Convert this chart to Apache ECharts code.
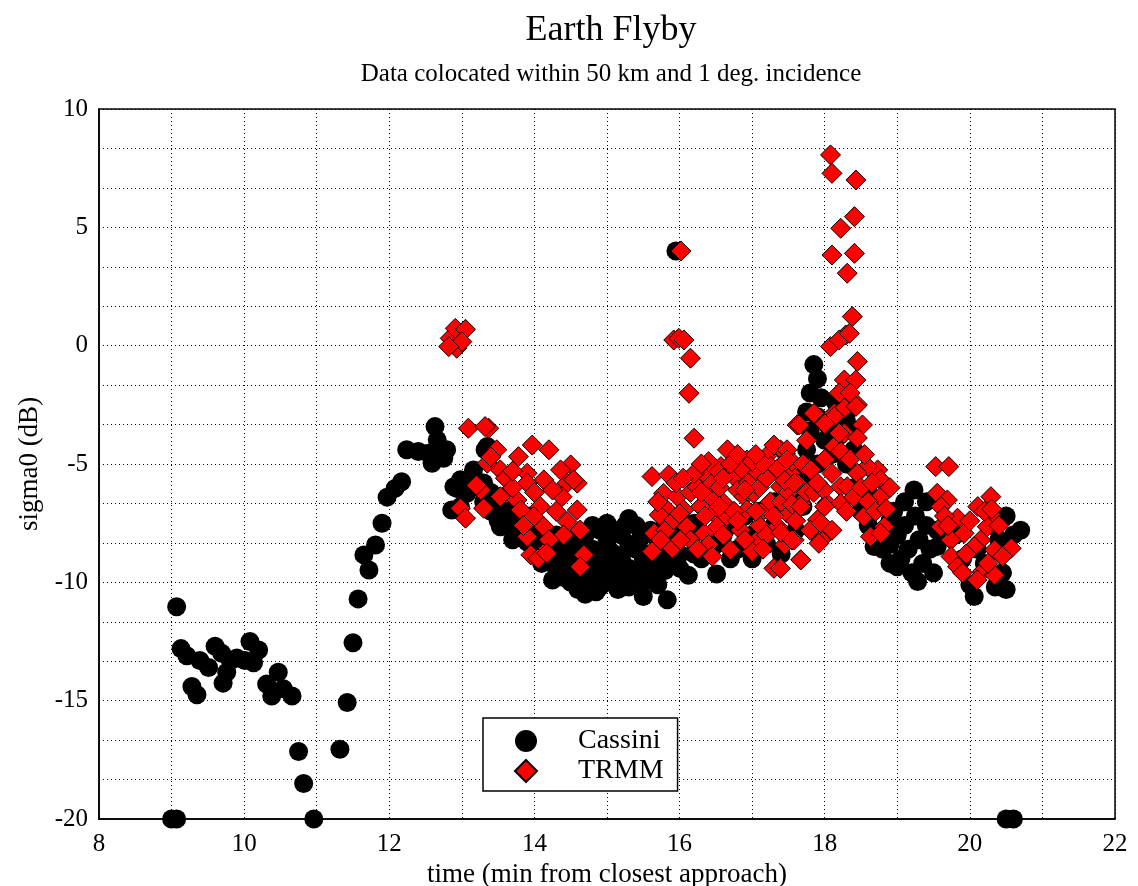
<!DOCTYPE html>
<html>
<head>
<meta charset="utf-8">
<script src="https://cdn.jsdelivr.net/npm/echarts@6/dist/echarts.min.js"></script>
<style>html,body{margin:0;padding:0;background:#fff}#chart{width:1138px;height:886px}</style>
</head>
<body>
<div id="chart"></div>
<script>
// ---- data (time in min from closest approach, sigma0 in dB) ----
var seriesNames = ['Cassini', 'TRMM'];
var xTicks = [8, 10, 12, 14, 16, 18, 20, 22];
var yTicks = [-20, -15, -10, -5, 0, 5, 10];

var cassini = [
  [9.0,-20],[9.07,-20],[9.07,-11.03],
  [9.13,-12.8],[9.21,-13.1],[9.39,-13.3],[9.51,-13.6],[9.28,-14.4],[9.35,-14.75],
  [9.60,-12.7],[9.69,-13.0],[9.81,-13.3],[9.71,-14.26],[9.76,-13.8],[9.90,-13.2],
  [10.08,-12.5],[10.20,-12.86],[10.13,-13.4],[10.01,-13.3],
  [10.47,-13.8],[10.31,-14.3],[10.38,-14.8],[10.54,-14.5],[10.66,-14.8],
  [10.75,-17.15],[10.82,-18.5],[10.96,-20.0],
  [11.32,-17.05],[11.42,-15.08],[11.50,-12.55],[11.57,-10.7],
  [11.65,-8.84],[11.72,-9.48],[11.81,-8.42],[11.90,-7.5],
  [11.97,-6.4],[12.08,-6.03],[12.17,-5.75],
  [12.24,-4.4],[12.40,-4.47],[12.54,-4.55],[12.63,-3.42],[12.66,-3.98],[12.75,-4.76],[12.59,-4.97],[12.79,-4.4],[12.70,-4.6],
  [12.93,-6.03],[12.86,-6.94],[12.98,-6.8],[13.07,-6.24],[12.98,-5.67],[12.89,-5.96],[13.16,-5.53],[13.16,-5.25],
  [13.32,-4.4],[13.35,-4.26],[13.53,-7.65],[13.62,-7.58],
  [13.3,-5.8],[13.3,-6.6],[13.4,-6.2],[13.4,-7.0],[13.5,-6.5],[13.5,-7.4],[13.6,-6.8],
  [13.7,-7.0],[13.7,-7.8],[13.7,-8.2],[13.8,-7.4],[13.8,-8.0],[13.9,-7.2],[13.9,-8.3],
  [14.0,-7.6],[14.0,-8.6],[14.0,-8.0],[14.1,-7.8],[14.1,-8.8],[14.1,-9.2],[14.2,-8.2],[14.2,-9.0],
  [14.3,-8.0],[14.3,-8.7],[14.3,-9.4],[14.4,-8.4],[14.4,-9.3],[14.4,-9.8],[14.5,-8.2],[14.5,-9.0],[14.5,-10.0],
  [14.6,-8.6],[14.6,-9.6],[14.6,-10.3],[14.7,-8.0],[14.7,-9.0],[14.7,-10.5],[14.7,-9.8],
  [14.8,-7.6],[14.8,-8.6],[14.8,-9.4],[14.9,-7.8],[14.9,-8.8],[14.9,-9.8],[14.9,-10.2],
  [15.0,-7.5],[15.0,-8.3],[15.0,-9.2],[15.0,-10.0],[15.1,-7.8],[15.1,-8.8],[15.1,-9.6],
  [15.2,-8.0],[15.2,-9.0],[15.2,-9.9],[15.3,-7.3],[15.3,-8.4],[15.3,-9.4],[15.3,-10.2],
  [15.4,-7.6],[15.4,-8.6],[15.4,-9.7],[15.5,-8.0],[15.5,-9.0],[15.5,-10.0],[15.5,-10.6],
  [15.6,-7.8],[15.6,-8.8],[15.6,-9.6],[15.7,-8.2],[15.7,-9.2],[15.7,-10.1],
  [15.8,-7.6],[15.8,-8.6],[15.8,-9.5],[15.83,-10.74],[15.9,-8.0],[15.9,-9.0],
  [14.85,-10.4],[15.15,-10.3],[15.25,-7.6],[15.45,-8.2],[14.25,-9.9],[15.05,-8.7],
  [15.95,4.0],
  [16.0,-8.8],[16.0,-9.4],[16.1,-8.0],[16.12,-9.7],[16.2,-7.5],[16.2,-8.8],[16.3,-9.0],
  [16.51,-9.65],[16.5,-8.4],[16.6,-8.0],[16.7,-7.6],[16.7,-9.0],[16.8,-8.6],[16.9,-7.2],
  [17.0,-8.0],[17.0,-9.0],[17.1,-7.0],[17.2,-8.4],[17.3,-7.6],[17.3,-6.6],[17.4,-8.8],
  [17.5,-7.0],[17.6,-6.0],[17.6,-7.8],[17.7,-5.5],[17.7,-6.8],
  [17.85,-0.8],[17.9,-1.4],[17.8,-2.0],[17.95,-2.2],[17.75,-2.8],[17.9,-3.0],[18.05,-3.4],
  [17.8,-3.6],[18.0,-4.0],[17.75,-4.4],[18.1,-4.6],[17.9,-5.0],[18.2,-3.8],[18.15,-2.4],
  [18.3,-3.2],[18.3,-2.8],[18.4,-3.6],
  [18.3,-5.0],[18.4,-6.0],[18.5,-7.0],[18.6,-7.6],[18.7,-8.2],[18.8,-8.6],[18.4,-4.4],
  [18.6,-6.2],[18.9,-7.4],[18.9,-8.4],[18.68,-8.49],
  [18.95,-7.0],[19.0,-8.0],[19.05,-9.0],[19.1,-6.6],[19.1,-7.6],[19.15,-8.6],[19.2,-9.6],
  [19.25,-7.2],[19.3,-8.2],[19.23,-6.1],[19.35,-9.2],[19.4,-7.6],[19.45,-8.6],[19.28,-9.97],
  [19.5,-9.6],[19.0,-9.34],[18.9,-9.2],[19.4,-6.6],[19.55,-7.8],[19.55,-8.49],
  [19.8,-8.0],[19.9,-9.0],[20.0,-10.1],[20.06,-10.6],[20.1,-8.6],[20.2,-9.2],[20.3,-7.6],
  [20.4,-8.2],[20.45,-9.6],[20.5,-10.3],[20.35,-10.2],[20.6,-8.0],[20.7,-7.8],[20.5,-7.2],
  [20.5,-20],[20.6,-20]
];

var trmm = [
  [12.93,-0.11],[12.84,0.31],[12.91,0.73],[13.05,0.69],[13.0,0.17],[12.82,-0.04],
  [13.09,-3.49],[13.37,-3.49],[13.32,-3.42],
  [13.48,-4.4],[13.97,-4.2],[14.2,-4.4],[13.78,-4.69],[14.5,-5.04],
  [13.35,-4.97],[13.53,-5.25],[13.90,-5.39],[14.13,-5.67],
  [13.26,-6.1],[13.62,-6.24],[13.76,-6.52],[13.9,-5.8],
  [12.98,-6.87],[13.05,-7.29],[13.3,-6.87],
  [13.53,-6.38],[13.81,-6.94],[14.08,-6.8],[13.99,-7.22],
  [14.13,-7.65],[13.9,-8.07],[13.95,-8.84],[14.15,-8.7],
  [14.45,-5.81],[14.59,-5.81],[14.38,-6.38],[14.59,-6.94],
  [14.45,-7.43],[14.63,-7.79],[14.68,-8.84],[14.63,-9.34],
  [14.36,-5.25],[14.54,-5.67],
  [13.4,-4.7],[13.6,-5.6],[13.7,-6.0],[14.0,-6.2],[14.25,-6.1],[14.3,-7.0],[14.4,-8.0],
  [14.2,-8.2],[13.85,-7.6],[14.05,-9.0],[13.7,-5.3],[13.2,-5.9],[14.17,-8.77],
  [15.62,-5.53],[15.85,-5.46],[15.78,-6.24],[15.83,-6.94],[15.65,-7.93],[15.62,-8.7],
  [15.9,-8.56],[15.83,-7.5],[15.92,0.24],[15.72,-7.15],[15.81,-7.79],[15.74,-8.21],
  [15.92,-7.36],[15.97,-6.38],[16.06,-6.94],[16.15,-6.2],
  [16.02,4.0],[15.99,0.31],[16.06,0.24],[16.15,-0.53],[16.13,-2.01],[16.2,-3.91],
  [16.1,-7.65],[16.15,-8.21],[16.01,-8.21],[16.24,-5.96],[16.38,-5.53],[16.43,-6.38],
  [16.29,-6.8],[16.47,-7.08],[16.61,-6.66],[16.52,-7.65],[16.34,-7.93],[16.57,-5.11],
  [16.66,-4.4],[16.75,-5.53],[16.8,-6.1],[16.93,-4.83],[17.07,-5.39],[17.19,-4.69],
  [17.26,-5.11],[16.89,-6.38],[17.02,-6.24],[16.93,-6.94],[17.16,-6.94],[16.84,-7.79],
  [17.07,-8.21],[16.7,-8.63],[17.0,-8.7],[17.39,-4.4],[17.46,-4.55],[17.53,-5.39],
  [17.39,-5.96],[17.62,-5.81],[17.67,-6.66],[17.48,-7.08],[17.35,-7.65],[17.58,-8.21],
  [17.3,-9.41],[17.67,-9.05],[17.81,-5.25],[17.62,-3.35],[17.85,-2.86],[18.13,-2.86],
  [17.95,-8.21],[17.9,-7.36],[18.03,-6.66],[18.22,-5.96],[18.13,-4.26],[18.27,-3.7],
  [16.2,-5.4],[16.3,-6.2],[16.45,-5.8],[16.55,-6.0],[16.65,-7.2],[16.75,-7.0],
  [16.85,-5.2],[16.95,-5.8],[17.1,-6.0],[17.2,-5.6],[17.25,-6.6],[17.3,-7.2],
  [17.4,-6.6],[17.5,-6.2],[17.55,-4.9],[17.6,-7.4],[17.7,-5.0],[17.75,-6.2],
  [17.1,-7.6],[16.9,-8.2],[16.6,-8.0],[16.4,-8.4],[16.25,-8.6],[16.5,-5.2],
  [16.7,-5.0],[17.0,-4.9],[17.15,-5.0],[17.35,-5.2],[15.7,-6.6],[15.95,-5.8],
  [16.05,-5.6],[17.45,-8.4],[17.2,-8.0],[16.35,-7.2],[17.8,-7.8],[17.85,-6.2],
  [16.0,-7.1],[16.4,-4.9],[16.8,-4.6],[17.05,-4.6],[17.3,-4.2],[16.55,-6.8],
  [16.8,-7.4],[17.05,-7.0],[17.4,-7.9],[17.55,-6.7],[16.3,-5.0],[16.6,-5.6],
  [17.45,-5.7],[16.9,-6.1],[16.45,-8.9],[17.15,-8.6],
  [18.08,8.06],[18.1,7.28],[18.43,7.0],[18.41,5.45],[18.22,4.96],[18.1,3.83],
  [18.41,3.9],[18.31,3.06],[18.38,1.23],[18.29,0.45],[18.08,-0.04],[18.2,0.24],
  [18.34,0.52],[18.45,-0.67],[18.27,-1.45],[18.43,-1.45],[18.45,-2.5],[18.27,-2.64],
  [18.13,-3.0],[18.52,-3.35],[17.65,-3.35],[18.2,-2.0],[18.35,-2.0],
  [17.48,-4.4],[17.81,-5.25],[18.22,-4.47],[17.48,-4.83],[18.73,-5.25],[18.77,-5.67],
  [18.59,-5.11],[18.45,-5.39],[17.58,-5.81],[17.99,-6.1],[18.31,-5.96],[18.77,-6.38],
  [17.67,-6.8],[17.95,-7.5],[18.22,-6.66],[18.54,-7.22],[18.82,-7.65],[17.55,-8.21],
  [17.92,-8.35],[17.67,-9.05],[17.39,-9.41],[18.63,-8.07],[18.77,-7.93],[18.43,-2.57],
  [18.2,-3.7],
  [18.0,-4.8],[18.1,-5.4],[18.35,-4.8],[18.4,-6.4],[18.5,-6.0],[18.6,-6.6],
  [18.65,-5.8],[18.7,-7.0],[18.3,-7.0],[18.1,-7.8],[18.0,-6.8],[17.9,-5.8],
  [18.45,-3.9],[18.55,-4.6],[18.85,-6.9],[18.9,-6.0],[18.0,-3.3],[17.75,-4.0],
  [19.53,-5.11],[19.71,-5.11],[19.55,-6.24],[19.69,-6.52],[20.29,-6.38],[20.11,-6.8],
  [19.83,-7.29],[20.29,-7.15],[19.60,-7.65],[19.74,-8.21],[20.15,-8.21],[20.34,-8.63],
  [20.57,-8.56],[19.74,-8.91],[19.83,-9.34],[20.17,-9.55],[20.34,-9.69],[19.92,-7.93],
  [20.24,-7.65],[20.06,-8.49],
  [19.6,-6.8],[19.65,-7.2],[19.95,-8.8],[20.0,-7.4],[20.2,-7.0],[20.4,-7.6],
  [20.45,-8.9],[20.25,-9.2],[20.1,-9.9],[19.9,-9.6],[19.7,-7.6],[20.3,-6.9]
];

var FONT = "'Liberation Serif','DejaVu Serif',serif";
var dotted = {color:'#000', width:1, type:[1,3]};

var chart = echarts.init(document.getElementById('chart'), null, {renderer:'canvas'});
chart.setOption({
  animation:false,
  backgroundColor:'#fff',
  title:[
    {text:'Earth Flyby', left:606, top:8, textAlign:'center',
     textStyle:{fontFamily:FONT, fontSize:36, fontWeight:'normal', color:'#000'}},
    {text:'Data colocated within 50 km and 1 deg. incidence', left:606, top:57, textAlign:'center',
     textStyle:{fontFamily:FONT, fontSize:25, fontWeight:'normal', color:'#000'}}
  ],
  grid:{left:99, right:23, top:109, bottom:67, containLabel:false, outerBoundsMode:'none',
        show:true, borderColor:'#000', borderWidth:1.5, backgroundColor:'#fff'},
  legend:{
    data:seriesNames, orient:'vertical', left:483, top:718,
    backgroundColor:'#fff', borderColor:'#000', borderWidth:1.5, borderRadius:0,
    padding:[9,14,6,31], itemWidth:22, itemHeight:22, itemGap:2, selectedMode:false,
    textStyle:{fontFamily:FONT, fontSize:28, color:'#000', padding:[0,0,0,36]}
  },
  xAxis:{
    type:'value', min:xTicks[0], max:xTicks[xTicks.length-1], interval:2,
    name:'time (min from closest approach)', nameLocation:'middle', nameGap:39,
    nameTextStyle:{fontFamily:FONT, fontSize:27, color:'#000'},
    axisLine:{show:true, onZero:false, lineStyle:{color:'#000', width:1.5}},
    axisTick:{show:false},
    axisLabel:{fontFamily:FONT, fontSize:25, color:'#000', margin:13},
    splitLine:{show:true, lineStyle:dotted},
    minorTick:{show:false, splitNumber:2},
    minorSplitLine:{show:true, lineStyle:dotted}
  },
  yAxis:{
    type:'value', min:yTicks[0], max:yTicks[yTicks.length-1], interval:5,
    name:'sigma0 (dB)', nameLocation:'middle', nameGap:56, nameRotate:90,
    nameTextStyle:{fontFamily:FONT, fontSize:27, color:'#000'},
    axisLine:{show:true, onZero:false, lineStyle:{color:'#000', width:1.5}},
    axisTick:{show:false},
    axisLabel:{fontFamily:FONT, fontSize:25, color:'#000', margin:11},
    splitLine:{show:true, lineStyle:dotted},
    minorTick:{show:false, splitNumber:3},
    minorSplitLine:{show:true, lineStyle:dotted}
  },
  series:[
    {name:seriesNames[0], type:'scatter', symbol:'circle', symbolSize:19, data:cassini,
     itemStyle:{color:'#000', opacity:1}, z:2},
    {name:seriesNames[1], type:'scatter', symbol:'diamond', symbolSize:20, data:trmm,
     itemStyle:{color:'#ff0000', borderColor:'#000', borderWidth:1, opacity:1}, z:3}
  ]
});
</script>
</body>
</html>
